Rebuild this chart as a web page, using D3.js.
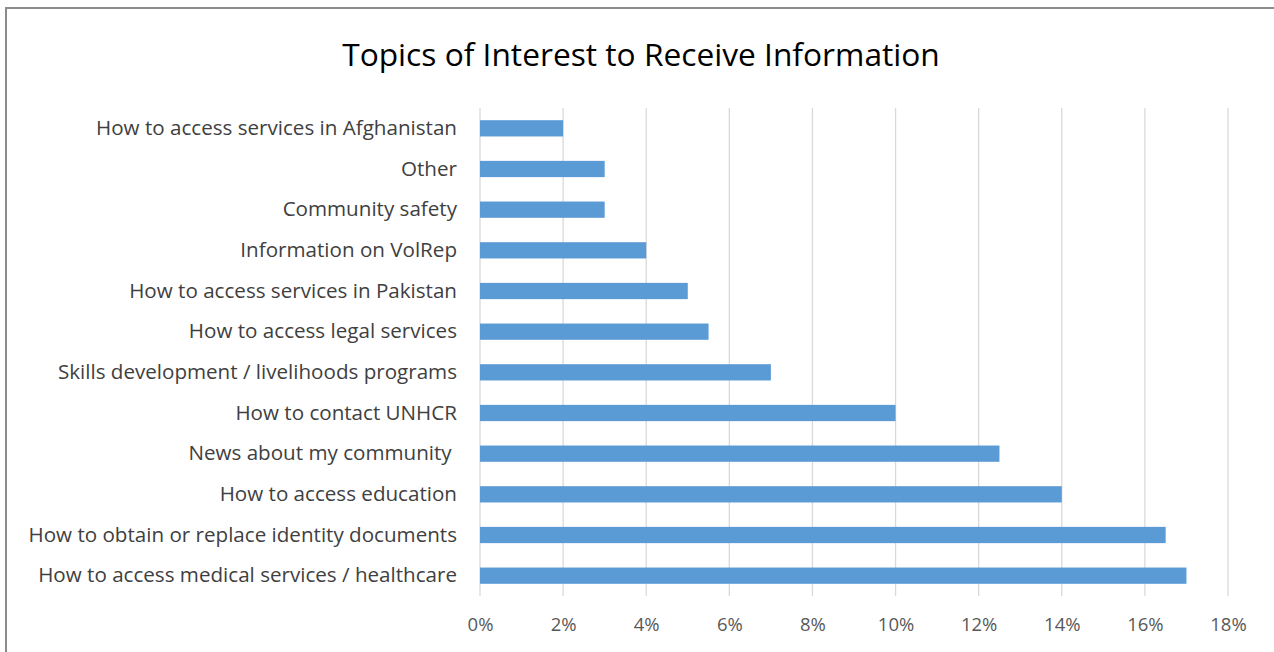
<!DOCTYPE html>
<html>
<head>
<meta charset="utf-8">
<script src="https://cdn.jsdelivr.net/npm/d3@7"></script>
<style>
  html, body { margin: 0; padding: 0; background: #fff; }
  svg { display: block; }
</style>
</head>
<body>
<svg id="chart" width="1274" height="652"></svg>
<script>
// Topics listed from top to bottom of the chart
const topics = [
  "How to access services in Afghanistan",
  "Other",
  "Community safety",
  "Information on VolRep",
  "How to access services in Pakistan",
  "How to access legal services",
  "Skills development / livelihoods programs",
  "How to contact UNHCR",
  "News about my community ",
  "How to access education",
  "How to obtain or replace identity documents",
  "How to access medical services / healthcare"
];
// Share of respondents (%)
const shares = [2, 3, 3, 4, 5, 5.5, 7, 10, 12.5, 14, 16.5, 17];
const tickValues = [0, 2, 4, 6, 8, 10, 12, 14, 16, 18];
const titleText = "Topics of Interest to Receive Information";

const rows = topics.map((t, i) => ({ topic: t, value: shares[i] }));

const svg = d3.select("#chart");
const W = 1274, H = 652;
const plot = { left: 480, right: 1228, top: 108, bottom: 596 };

// Chart frame
svg.append("rect")
  .attr("x", 6).attr("y", 8)
  .attr("width", W + 10).attr("height", H + 10)
  .attr("fill", "#fff")
  .attr("stroke", "#8c8c8c")
  .attr("stroke-width", 2);

// Title
svg.append("text")
  .attr("x", 641).attr("y", 66)
  .attr("text-anchor", "middle")
  .attr("font-family", "'Open Sans', 'Noto Sans', sans-serif")
  .attr("font-size", 31.7)
  .attr("fill", "#000")
  .text(titleText);

const x = d3.scaleLinear().domain([0, 18]).range([plot.left, plot.right]);
const y = d3.scaleBand()
  .domain(topics)
  .range([plot.top, plot.bottom])
  .paddingInner(0.6)
  .paddingOuter(0.3);

// Vertical gridlines
svg.append("g")
  .selectAll("line")
  .data(tickValues)
  .join("line")
  .attr("x1", d => x(d)).attr("x2", d => x(d))
  .attr("y1", plot.top).attr("y2", plot.bottom)
  .attr("stroke", "#d9d9d9")
  .attr("stroke-width", 1.3);

// Bars
svg.append("g")
  .selectAll("rect")
  .data(rows)
  .join("rect")
  .attr("x", x(0))
  .attr("y", d => y(d.topic))
  .attr("width", d => x(d.value) - x(0))
  .attr("height", y.bandwidth())
  .attr("fill", "#5b9bd5");

// Category labels
const yAxis = d3.axisLeft(y).tickSize(0).tickPadding(0);
const gy = svg.append("g")
  .attr("transform", `translate(${plot.left - 23},0)`)
  .call(yAxis);
gy.select(".domain").remove();
gy.selectAll("text")
  .attr("font-family", "'Open Sans', 'Noto Sans', sans-serif")
  .attr("font-size", 20.6)
  .attr("fill", "#404040")
  .style("white-space", "pre");

// Percentage axis
const xAxis = d3.axisBottom(x)
  .tickValues(tickValues)
  .tickSize(0)
  .tickPadding(0)
  .tickFormat(d => d + "%");
const gx = svg.append("g")
  .attr("transform", `translate(0,${plot.bottom + 22})`)
  .call(xAxis);
gx.select(".domain").remove();
gx.selectAll("text")
  .attr("font-family", "'Open Sans', 'Noto Sans', sans-serif")
  .attr("font-size", 18.5)
  .attr("fill", "#595959");
</script>
</body>
</html>
